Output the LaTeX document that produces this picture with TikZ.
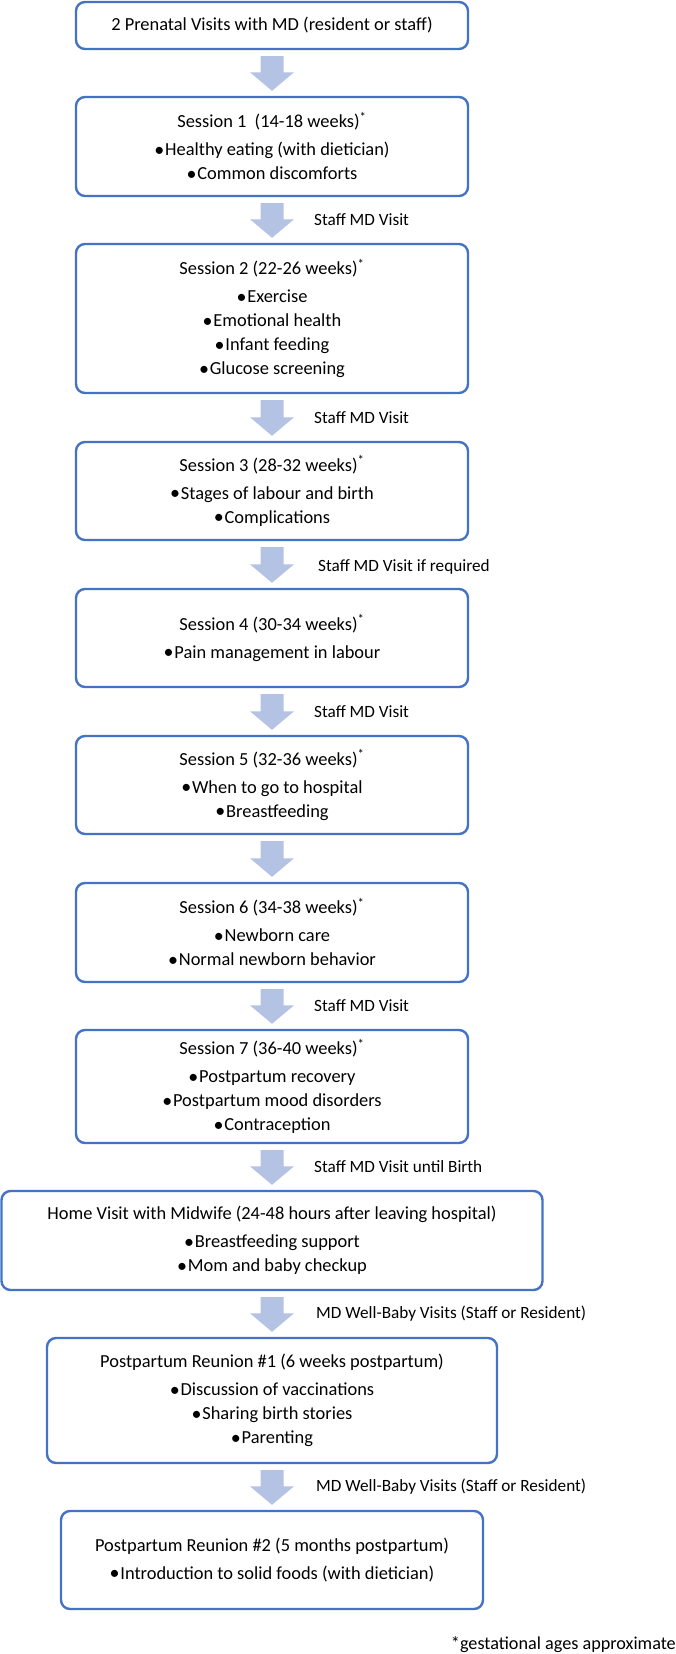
\documentclass[tikz,border=0pt]{standalone}
\usepackage{fontspec}
\setmainfont{Carlito}
\usetikzlibrary{calc}
\definecolor{boxblue}{RGB}{68,114,196}
\definecolor{arrowfill}{RGB}{180,195,227}
\tikzset{
  box/.style={draw=boxblue, line width=2.4pt, rounded corners=9pt, fill=white, align=center, inner sep=0pt, font=\fontsize{18.4pt}{24pt}\selectfont},
  lbl/.style={anchor=west, inner sep=0pt, font=\fontsize{17.2pt}{20pt}\selectfont},
  foot/.style={anchor=east, inner sep=0pt, font=\fontsize{18.2pt}{20pt}\selectfont},
}
\newcommand\blockarrow[2]{%
  \fill[arrowfill] let \p1=($(#1.south)+(0,-6pt)$), \p2=($(#2.north)+(0,5pt)$) in
   (\x1-11.5pt,\y1) -- (\x1+11.5pt,\y1) -- (\x1+11.5pt,\y2+18.5pt) -- (\x1+22pt,\y2+18.5pt)
   -- (\x1,\y2) -- (\x1-22pt,\y2+18.5pt) -- (\x1-11.5pt,\y2+18.5pt) -- cycle;}
\newcommand\wkast{\textsuperscript{*}}
\newcommand\bul{\raisebox{-0.5pt}{\fontsize{20pt}{0pt}\selectfont •}\hspace{0.8pt}}
\begin{document}
\begin{tikzpicture}[x=1pt,y=-1pt]
\useasboundingbox (0,0) rectangle (675,1654);
\node[box, minimum width=392pt, minimum height=47pt] (b1) at (272,25.5) {2 Prenatal Visits with MD (resident or staff)};
\node[box, minimum width=392pt, minimum height=99pt] (b2) at (272,146.5) {Session 1\ \ (14-18 weeks)\wkast\\[4pt]\bul Healthy eating (with dietician)\\\bul Common discomforts};
\node[box, minimum width=392pt, minimum height=149pt] (b3) at (272,318.5) {Session 2 (22-26 weeks)\wkast\\[4pt]\bul Exercise\\\bul Emotional health\\\bul Infant feeding\\\bul Glucose screening};
\node[box, minimum width=392pt, minimum height=98pt] (b4) at (272,491) {Session 3 (28-32 weeks)\wkast\\[4pt]\bul Stages of labour and birth\\\bul Complications};
\node[box, minimum width=392pt, minimum height=98pt] (b5) at (272,638) {Session 4 (30-34 weeks)\wkast\\[4pt]\bul Pain management in labour};
\node[box, minimum width=392pt, minimum height=98pt] (b6) at (272,785) {Session 5 (32-36 weeks)\wkast\\[4pt]\bul When to go to hospital\\\bul Breastfeeding};
\node[box, minimum width=392pt, minimum height=99pt] (b7) at (272,932.5) {Session 6 (34-38 weeks)\wkast\\[4pt]\bul Newborn care\\\bul Normal newborn behavior};
\node[box, minimum width=392pt, minimum height=113pt] (b8) at (272,1086.5) {Session 7 (36-40 weeks)\wkast\\[4pt]\bul Postpartum recovery\\\bul Postpartum mood disorders\\\bul Contraception};
\node[box, minimum width=541pt, minimum height=99pt] (b9) at (272,1240.5) {Home Visit with Midwife (24-48 hours after leaving hospital)\\[4pt]\bul Breastfeeding support\\\bul Mom and baby checkup};
\node[box, minimum width=450pt, minimum height=125pt] (b10) at (272,1400.5) {Postpartum Reunion \#1 (6 weeks postpartum)\\[4pt]\bul Discussion of vaccinations\\\bul Sharing birth stories\\\bul Parenting};
\node[box, minimum width=422pt, minimum height=98pt] (b11) at (272,1560) {Postpartum Reunion \#2 (5 months postpartum)\\[4pt]\bul Introduction to solid foods (with dietician)};

\blockarrow{b1}{b2}
\blockarrow{b2}{b3}
\blockarrow{b3}{b4}
\blockarrow{b4}{b5}
\blockarrow{b5}{b6}
\blockarrow{b6}{b7}
\blockarrow{b7}{b8}
\blockarrow{b8}{b9}
\blockarrow{b9}{b10}
\blockarrow{b10}{b11}

\node[lbl] (l2) at ($(b2.south)!0.5!(b3.north)+(42,0)$) {Staff MD Visit};
\node[lbl] (l3) at ($(b3.south)!0.5!(b4.north)+(42,0)$) {Staff MD Visit};
\node[lbl] (l4) at ($(b4.south)!0.5!(b5.north)+(46,2)$) {Staff MD Visit if required};
\node[lbl] (l5) at ($(b5.south)!0.5!(b6.north)+(42,0)$) {Staff MD Visit};
\node[lbl] (l7) at ($(b7.south)!0.5!(b8.north)+(42,0)$) {Staff MD Visit};
\node[lbl] (l8) at ($(b8.south)!0.5!(b9.north)+(42,0)$) {Staff MD Visit until Birth};
\node[lbl] (l9) at ($(b9.south)!0.5!(b10.north)+(44,0)$) {MD Well-Baby Visits (Staff or Resident)};
\node[lbl] (l10) at ($(b10.south)!0.5!(b11.north)+(44,0)$) {MD Well-Baby Visits (Staff or Resident)};
\node[foot] (fn) at (676,1645) {*gestational ages approximate};
\end{tikzpicture}
\end{document}
